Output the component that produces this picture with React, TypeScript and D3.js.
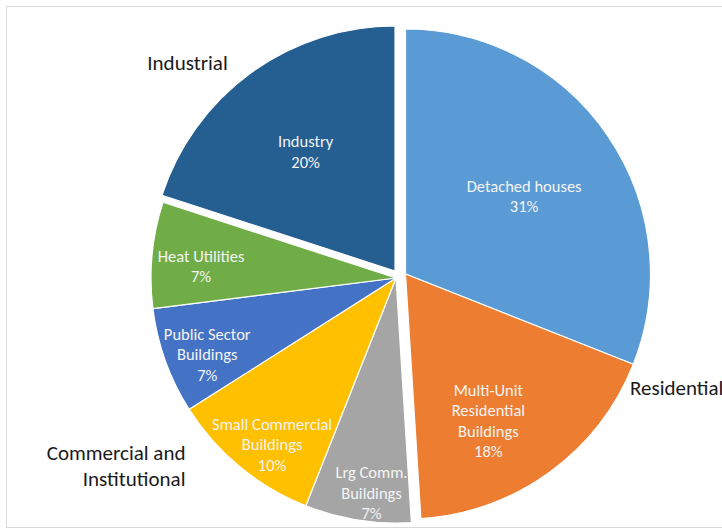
import React from "react";
import * as d3 from "d3";

// ---- data ----
const categories = [
  "Detached houses",
  "Multi-Unit Residential Buildings",
  "Lrg Comm. Buildings",
  "Small Commercial Buildings",
  "Public Sector Buildings",
  "Heat Utilities",
  "Industry",
];
const values = [31, 18, 7, 10, 7, 7, 20];
const labelLines = [
  ["Detached houses"],
  ["Multi-Unit", "Residential", "Buildings"],
  ["Lrg Comm.", "Buildings"],
  ["Small Commercial", "Buildings"],
  ["Public Sector", "Buildings"],
  ["Heat Utilities"],
  ["Industry"],
];
const explodeGroup = ["res", "res", "com", "com", "com", "com", "ind"];
const sectorNames = ["Industrial", "Residential", "Commercial and Institutional"];

// ---- style / layout ----
const colors = ["#5B9BD5", "#ED7D31", "#A5A5A5", "#FFC000", "#4472C4", "#70AD47", "#255E91"];
const W = 722;
const H = 531;
const R = 245;
const base = { x: 400, y: 275 };
const groupOffset: Record<string, [number, number]> = {
  res: [5.5, -1],
  com: [-4, 3],
  ind: [-5, -4],
};
// label placement: radius fraction and angle shift (degrees)
const labelRadius = [0.58, 0.687, 0.883, 0.846, 0.831, 0.797, 0.609];
const labelShift = [0.8, 6.5, -2.5, -2.9, -2.2, -1.9, -0.8];
const FONT = "Carlito, Calibri, Lato, 'Open Sans', sans-serif";

export default function App() {
  const pie = d3.pie<number>().sort(null).value((d) => d);
  const arcs = pie(values);
  const arc = d3.arc<d3.PieArcDatum<number>>().innerRadius(0).outerRadius(R);
  const lineH = 20.5;

  return (
    <svg
      width={W}
      height={H}
      style={{ position: "absolute", left: 0, top: 0, background: "#fff" }}
      fontFamily={FONT}
    >
      <rect x={6.5} y={6.5} width={W + 20} height={521} fill="#fff" stroke="#d9d9d9" strokeWidth={1} />
      {arcs.map((a, i) => {
        const [ox, oy] = groupOffset[explodeGroup[i]];
        const cx = base.x + ox;
        const cy = base.y + oy;
        return (
          <g key={categories[i]} transform={`translate(${cx},${cy})`}>
            <path d={arc(a) || ""} fill={colors[i]} stroke="#fff" strokeWidth={1.2} strokeLinejoin="round" />
          </g>
        );
      })}
      {arcs.map((a, i) => {
        const [ox, oy] = groupOffset[explodeGroup[i]];
        const cx = base.x + ox;
        const cy = base.y + oy;
        const mid = (a.startAngle + a.endAngle) / 2 + (labelShift[i] * Math.PI) / 180;
        const r = R * labelRadius[i];
        const x = cx + Math.sin(mid) * r;
        const y = cy - Math.cos(mid) * r;
        const lines = [...labelLines[i], `${values[i]}%`];
        const y0 = y - ((lines.length - 1) / 2) * lineH;
        return (
          <text
            key={"l" + i}
            x={x}
            textAnchor="middle"
            fontSize={16.5}
            fill="#f4f4f4"
          >
            {lines.map((ln, j) => (
              <tspan key={j} x={x} y={y0 + j * lineH} dominantBaseline="central">
                {ln}
              </tspan>
            ))}
          </text>
        );
      })}
      <text x={187.5} y={62.6} textAnchor="middle" dominantBaseline="central" fontSize={21} fill="#1a1a1a">
        {sectorNames[0]}
      </text>
      <text x={630} y={387.7} textAnchor="start" dominantBaseline="central" fontSize={21} fill="#1a1a1a">
        {sectorNames[1]}
      </text>
      <text textAnchor="end" fontSize={21} fill="#1a1a1a">
        <tspan x={185.5} y={453} dominantBaseline="central">Commercial and</tspan>
        <tspan x={185.5} y={479} dominantBaseline="central">Institutional</tspan>
      </text>
    </svg>
  );
}
